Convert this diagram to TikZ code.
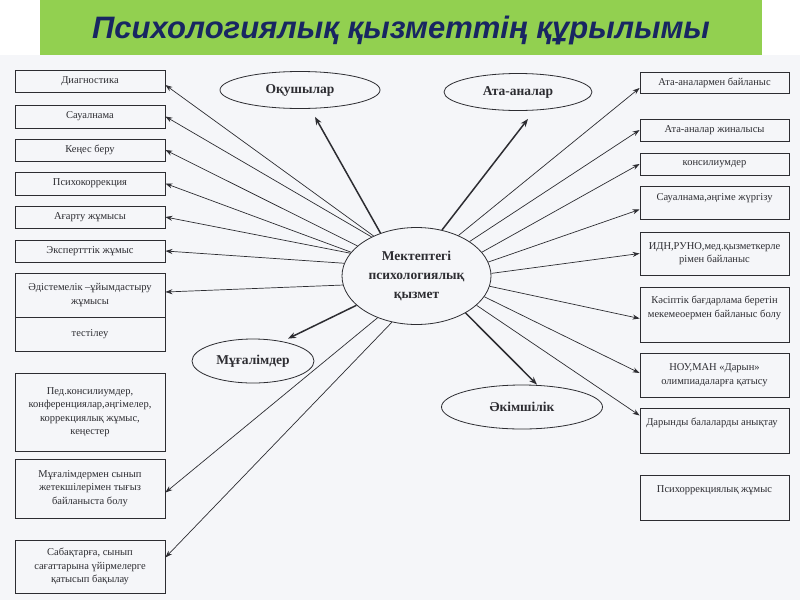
\documentclass[tikz,border=0pt]{standalone}
\usepackage{fontspec}
\setmainfont{Liberation Serif}
\newfontfamily\titlefont{Liberation Sans}
\usetikzlibrary{arrows.meta,shapes.geometric,calc}
\definecolor{titlegreen}{RGB}{146,208,80}
\definecolor{titlenavy}{RGB}{24,38,98}
\definecolor{bgc}{RGB}{245,246,249}
\definecolor{ink}{RGB}{45,45,50}
\begin{document}
\begin{tikzpicture}[x=1pt,y=-1pt,
  box/.style={draw=ink, line width=0.8pt, rectangle, minimum width=150pt, inner sep=1pt, text=ink,
    font=\fontsize{10.5}{13.5}\selectfont, align=center},
  txt/.style={inner sep=0pt, text=ink, font=\fontsize{10.5}{13.5}\selectfont, align=center},
  ell/.style={draw=ink, line width=0.8pt, ellipse, inner sep=0pt, text=ink,
    font=\fontsize{13.5}{19}\selectfont\bfseries, align=center},
  ln/.style={draw=ink, line width=0.7pt, -{Stealth[length=7pt,width=5pt]}},
  thk/.style={draw=ink, line width=1.5pt, -{Stealth[length=8pt,width=6pt]}},
]
\useasboundingbox (0,0) rectangle (800,600);
\fill[white] (0,0) rectangle (800,600);
\fill[bgc] (0,55) rectangle (800,600);
\fill[titlegreen] (40,0) rectangle (762,55);
\node[font=\titlefont\fontsize{31}{31}\selectfont\bfseries\itshape, text=titlenavy] (title) at (401,30) {Психологиялық қызметтің құрылымы};

% left boxes
\node[box, minimum height=22pt] (d1) at (90,81) {Диагностика};
\node[box, minimum height=23pt] (d2) at (90,116.5) {Сауалнама};
\node[box, minimum height=22pt] (d3) at (90,150) {Кеңес беру};
\node[box, minimum height=23pt] (d4) at (90,183.5) {Психокоррекция};
\node[box, minimum height=22pt] (d5) at (90,217) {Ағарту жұмысы};
\node[box, minimum height=22pt] (d6) at (90,251) {Экспертттік жұмыс};
\node[box, minimum height=44pt] (d7) at (90,295) {Әдістемелік –ұйымдастыру\\жұмысы};
\node[box, minimum height=34pt] (d8) at (90,334) {тестілеу};
\node[box, minimum height=78pt] (d9) at (90,412) {Пед.консилиумдер,\\конференциялар,әңгімелер,\\коррекциялық жұмыс,\\кеңестер};
\node[box, minimum height=59pt] (d10) at (90,488.5) {Мұғалімдермен сынып\\жетекшілерімен тығыз\\байланыста болу};
\node[box, minimum height=53pt] (d11) at (90,566.5) {Сабақтарға, сынып\\сағаттарына үйірмелерге\\қатысып бақылау};

% right boxes
\node[box, minimum width=149pt, minimum height=21pt] (r1) at (714.5,83) {Ата-аналармен байланыс};
\node[box, minimum width=149pt, minimum height=22pt] (r2) at (714.5,130) {Ата-аналар жиналысы};
\node[box, minimum width=149pt, minimum height=22pt] (r3) at (714.5,164) {консилиумдер};
\node[box, minimum width=149pt, minimum height=33pt] (r4) at (714.5,202.5) {};
\node[txt] (r4t) at (714.5,198) {Сауалнама,әңгіме жүргізу};
\node[box, minimum width=149pt, minimum height=43pt] (r5) at (714.5,253.5) {ИДН,РУНО,мед.қызметкерле\\рімен байланыс};
\node[box, minimum width=149pt, minimum height=55pt] (r6) at (714.5,314.5) {};
\node[txt] (r6t) at (714.5,308) {Кәсіптік бағдарлама беретін\\мекемеоермен байланыс болу};
\node[box, minimum width=149pt, minimum height=44pt] (r7) at (714.5,375) {НОУ,МАН «Дарын»\\олимпиадаларға қатысу};
\node[box, minimum width=149pt, minimum height=45pt] (r8) at (714.5,430.5) {};
\node[txt] (r8t) at (712,423) {Дарынды балаларды анықтау};
\node[box, minimum width=149pt, minimum height=45pt] (r9) at (714.5,497.5) {};
\node[txt] (r9t) at (714.5,490) {Психоррекциялық жұмыс};

% ellipses
\node[ell, minimum width=160pt, minimum height=37pt] (o) at (300,90) {Оқушылар};
\node[ell, minimum width=148pt, minimum height=37pt] (a) at (518,92) {Ата-аналар};
\node[ell, minimum width=149pt, minimum height=97pt] (c) at (416.5,276) {Мектептегі\\психологиялық\\қызмет};
\node[ell, minimum width=122pt, minimum height=44pt] (m) at (253,361) {Мұғалімдер};
\node[ell, minimum width=161pt, minimum height=44pt] (e) at (522,407) {Әкімшілік};

% thin connectors, left
\draw[ln] (c.137) -- ([yshift=-4pt]d1.east);
\draw[ln] (c.139) -- (d2.east);
\draw[ln] (c.153) -- (d3.east);
\draw[ln] (c.160) -- (d4.east);
\draw[ln] (c.161) -- (d5.east);
\draw[ln] (c.170) -- (d6.east);
\draw[ln] (c.187) -- ([yshift=3pt]d7.east);
\draw[ln] (c.227) -- ([yshift=-4pt]d10.east);
\draw[ln] (c.242) -- ([yshift=9pt]d11.east);
% thin connectors, right
\draw[ln] (c.44) -- ([yshift=-5pt]r1.west);
\draw[ln] (c.33) -- (r2.west);
\draw[ln] (c.20) -- (r3.west);
\draw[ln] (c.11) -- ([yshift=-7pt]r4.west);
\draw[ln] (c.2) -- (r5.west);
\draw[ln] (c.-8) -- ([yshift=-4pt]r6.west);
\draw[ln] (c.-17) -- ([yshift=2pt]r7.west);
\draw[ln] (c.-26) -- ([yshift=15pt]r8.west);
% thick connectors
\draw[thk] (c.130) -- ([xshift=15pt,yshift=-8pt]o.south);
\draw[thk] (c.61) -- ([xshift=10pt,yshift=-8pt]a.south);
\draw[thk] (c.206) -- ([xshift=35pt]m.north);
\draw[thk] (c.-37) -- ([xshift=15pt]e.north);
\end{tikzpicture}
\end{document}
